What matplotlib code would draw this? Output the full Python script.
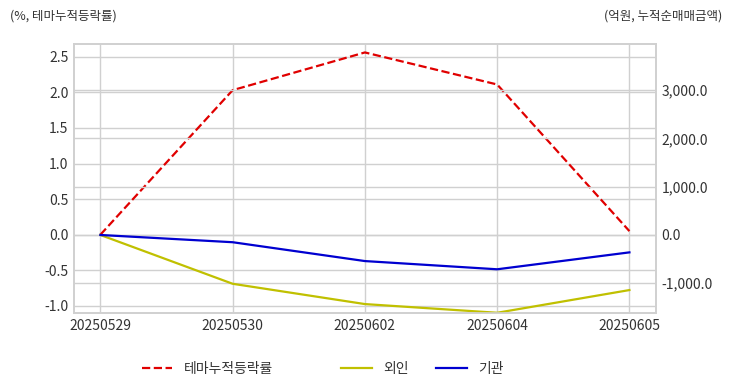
import matplotlib
matplotlib.use("Agg")
import matplotlib.pyplot as plt

plt.rcParams['font.family'] = ['Noto Sans CJK KR', 'DejaVu Sans']
plt.rcParams['axes.unicode_minus'] = False

dates = ['20250529', '20250530', '20250602', '20250604', '20250605']
theme = [0.0, 2.03, 2.56, 2.11, 0.05]
foreign = [0.0, -1010, -1430, -1610, -1140]
inst = [0.0, -150, -540, -710, -360]

fig = plt.figure(figsize=(7.32, 3.92), dpi=100)
ax1 = fig.add_axes([0.101, 0.2015, 0.795, 0.6865])
ax2 = ax1.twinx()

x = range(len(dates))
l1, = ax1.plot(x, theme, color='#e00000', ls='--', lw=1.6, label='테마누적등락률')
l2, = ax2.plot(x, foreign, color='#c0c000', lw=1.6, label='외인')
l3, = ax2.plot(x, inst, color='#0000d0', lw=1.6, label='기관')

ax1.set_xlim(-0.2, 4.2)
ax1.set_ylim(-1.1, 2.68)
ax2.set_ylim(-1615, 3954)
ax1.set_yticks([-1.0, -0.5, 0.0, 0.5, 1.0, 1.5, 2.0, 2.5])
ax1.set_yticklabels([f'{v:.1f}' for v in ax1.get_yticks()])
ax2.set_yticks([-1000, 0, 1000, 2000, 3000])
ax2.set_yticklabels([f'{v:,.1f}' for v in ax2.get_yticks()])
ax1.set_xticks(list(x))
ax1.set_xticklabels(dates)

for ax in (ax1, ax2):
    ax.grid(True, color='#d0d0d0', lw=1.0)
    ax.set_axisbelow(True)
    ax.tick_params(length=0, labelsize=10, colors='#333333', pad=4)
    for s in ax.spines.values():
        s.set_color('#d0d0d0')
        s.set_linewidth(1.2)
ax2.grid(axis='x', visible=False)
ax1.set_facecolor('white')
ax2.patch.set_visible(False)

fig.text(0.014, 0.96, '(%, 테마누적등락률)', fontsize=9, color='#333333', va='center')
fig.text(0.986, 0.96, '(억원, 누적순매매금액)', fontsize=9, color='#333333', va='center', ha='right')

leg1 = fig.legend(handles=[l1], loc='center', bbox_to_anchor=(0.283, 0.059), frameon=False,
                  fontsize=10, handlelength=2.2, handletextpad=0.8, labelcolor='#333333')
leg2 = fig.legend(handles=[l2, l3], loc='center', bbox_to_anchor=(0.577, 0.059), frameon=False,
                  fontsize=10, ncol=2, handlelength=2.2, handletextpad=0.8, columnspacing=2,
                  labelcolor='#333333')

fig.savefig('out.png', dpi=100)
